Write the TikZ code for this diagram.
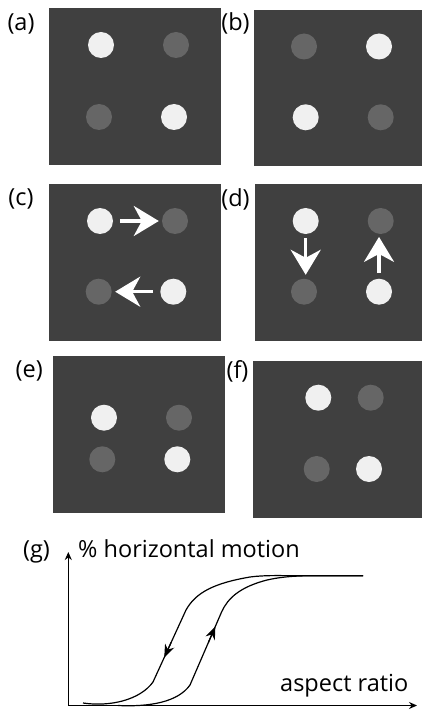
\documentclass[tikz,border=0pt]{standalone}
\usepackage{fontspec}
\setmainfont{Open Sans}
\usetikzlibrary{arrows.meta,calc}

\definecolor{panelbg}{HTML}{404040}
\definecolor{dotlit}{HTML}{F0F0F0}
\definecolor{dotdim}{HTML}{666666}

\begin{document}
\begin{tikzpicture}[x=1pt,y=-1pt,
  panel/.style={fill=panelbg,draw=none},
  lit/.style={circle,fill=dotlit,minimum size=26pt,inner sep=0pt},
  dim/.style={circle,fill=dotdim,minimum size=26pt,inner sep=0pt},
  tag/.style={font=\fontsize{23.5}{27}\selectfont,inner sep=0pt},
  flow/.style={draw=white,line width=3.5pt,-{Stealth[length=25pt,width=30pt,inset=8pt]}},
  axis/.style={line width=1.2pt,-{Stealth[length=8pt,width=7pt]}},
  loopcurve/.style={line width=1.2pt},
  tipmark/.style={line width=1.2pt,-{Stealth[length=13pt,width=10pt]}}
]
\useasboundingbox (0,0) rectangle (422,711);
\fill[white] (0,0) rectangle (422,711);

% ---- panel (a)
\fill[panel] (49,8) rectangle (221,165);
\node[tag] (la) at (21,23.5) {(a)};
\node[lit] (a1) at (101,45) {};
\node[dim] (a2) at (176,45) {};
\node[dim] (a3) at (99,117) {};
\node[lit] (a4) at (174,117) {};

% ---- panel (b)
\fill[panel] (254,10) rectangle (422,166.5);
\node[tag] (lb) at (235.5,23.5) {(b)};
\node[dim] (b1) at (304,46.5) {};
\node[lit] (b2) at (379,46.5) {};
\node[lit] (b3) at (305.7,117.3) {};
\node[dim] (b4) at (380.7,117.3) {};

% ---- panel (c): horizontal motion
\fill[panel] (49,184) rectangle (221,340.5);
\node[tag] (lc) at (21,199) {(c)};
\node[lit] (c1) at (100,221) {};
\node[dim] (c2) at (175,221) {};
\node[dim] (c3) at (98.7,291.7) {};
\node[lit] (c4) at (173.3,291.7) {};
\draw[flow] ($(c1.east)+(7,0)$) -- ($(c2.west)+(-3,0)$);
\draw[flow] ($(c4.west)+(-7,0)$) -- ($(c3.east)+(3.3,0)$);

% ---- panel (d): vertical motion
\fill[panel] (255,184) rectangle (422,340.5);
\node[tag] (ld) at (235.5,199) {(d)};
\node[lit] (d1) at (305.7,221) {};
\node[dim] (d2) at (380.7,221) {};
\node[dim] (d3) at (304,291.7) {};
\node[lit] (d4) at (379,291.7) {};
\draw[flow] ($(d1.south)+(0,4)$) -- ($(d1.south |- d3.north)+(0,-3.7)$);
\draw[flow] ($(d4.north)+(0,-5.4)$) -- ($(d4.north |- d2.south)+(0,2.7)$);

% ---- panel (e): wide spacing
\fill[panel] (53,356) rectangle (225,512.7);
\node[tag] (le) at (29.2,370.8) {(e)};
\node[lit] (e1) at (104,417.7) {};
\node[dim] (e2) at (179,417.7) {};
\node[dim] (e3) at (102.3,459.3) {};
\node[lit] (e4) at (177.3,459.3) {};

% ---- panel (f): tall spacing
\fill[panel] (253.3,361) rectangle (422,517.7);
\node[tag] (lf) at (237.5,371.5) {(f)};
\node[lit] (f1) at (318.3,397.7) {};
\node[dim] (f2) at (370.7,397.7) {};
\node[dim] (f3) at (316.7,469) {};
\node[lit] (f4) at (369,469) {};

% ---- panel (g): hysteresis plot
\coordinate (org) at (68.3,705.5);
\coordinate (ytop) at (68.3,552);
\coordinate (xend) at (417,705.5);
\draw[axis] (org) -- (ytop);
\draw[axis] (org) -- (xend);
\node[tag,anchor=base] (lg) at (36.5,557) {(g)};
\node[tag,anchor=base west] (ylab) at (78,557) {\% horizontal motion};
\node[tag,anchor=base west] (xlab) at (280,691) {aspect ratio};

% descending branch
\coordinate (L1) at (186,610);
\coordinate (L2) at (153,682);
\draw[loopcurve] (83,703) .. controls (110,707) and (140,700) .. (L2)
  -- (L1) .. controls (196,592) and (215,583) .. (250,577)
  .. controls (265,575) and (280,575.7) .. (300,575.7) -- (363,575.7);
\draw[tipmark] ($(L1)!0.45!(L2)$) -- ($(L1)!0.66!(L2)$);

% ascending branch
\coordinate (R1) at (190,685);
\coordinate (R2) at (221.7,611.7);
\draw[loopcurve] (118,705.5) .. controls (150,707) and (178,702) .. (R1)
  -- (R2) .. controls (228,598) and (240,587) .. (267,580)
  .. controls (285,576) and (300,575.7) .. (320,575.7) -- (363,575.7);
\draw[tipmark] ($(R1)!0.58!(R2)$) -- ($(R1)!0.8!(R2)$);
\end{tikzpicture}
\end{document}
